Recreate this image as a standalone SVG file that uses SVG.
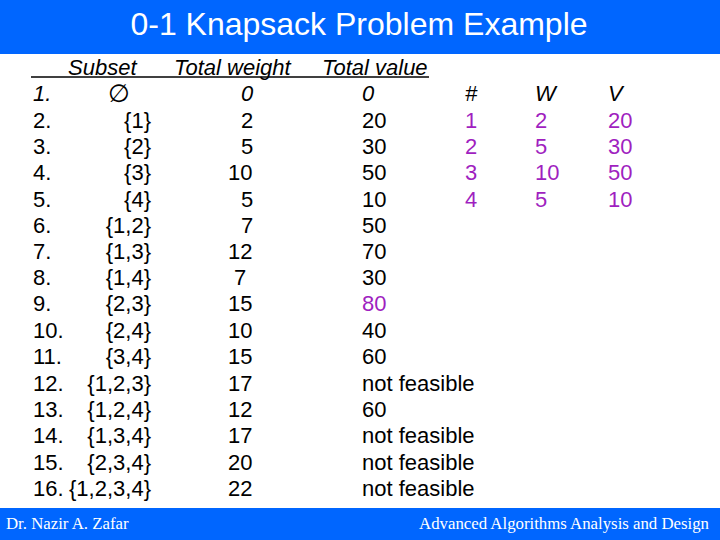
<svg xmlns="http://www.w3.org/2000/svg" width="720" height="540" viewBox="0 0 720 540">
<style>
text{font-family:"Liberation Sans",Arial,sans-serif;font-size:22px;fill:#000}
.i{font-style:italic}
.e{text-anchor:end}
.m{text-anchor:middle}
.p{fill:#a01fc0}
.f{font-family:"Liberation Serif","Times New Roman",serif;font-size:16.8px;fill:#fff}
</style>
<rect width="720" height="540" fill="#fff"/>
<rect width="720" height="54" fill="#0066ff"/>
<rect y="508" width="720" height="32" fill="#0066ff"/>
<text x="359" y="35" class="m" style="font-size:32px;fill:#fff">0-1 Knapsack Problem Example</text>
<g id="table">
<text x="68" y="75" class="i">Subset</text><text x="174" y="75" class="i">Total weight</text><text x="322" y="75" class="i">Total value</text>
<path d="M31 77H429" stroke="#000" stroke-width="1.5" fill="none"/>
<text x="465" y="101" class="i">#</text><text x="535" y="101" class="i">W</text><text x="608" y="101" class="i">V</text>
<text x="33" y="101" class="i">1.</text><text x="108" y="102" class="i" style="font-family:'DejaVu Sans',sans-serif;font-size:25px">∅</text><text x="241" y="101" class="i">0</text><text x="362" y="101" class="i">0</text>
<text x="33" y="128">2.</text><text x="151" y="128" class="e">{1}</text><text x="241" y="128">2</text><text x="362" y="128">20</text>
<text x="33" y="154">3.</text><text x="151" y="154" class="e">{2}</text><text x="241" y="154">5</text><text x="362" y="154">30</text>
<text x="33" y="180">4.</text><text x="151" y="180" class="e">{3}</text><text x="228" y="180">10</text><text x="362" y="180">50</text>
<text x="33" y="207">5.</text><text x="151" y="207" class="e">{4}</text><text x="241" y="207">5</text><text x="362" y="207">10</text>
<text x="33" y="233">6.</text><text x="151" y="233" class="e">{1,2}</text><text x="241" y="233">7</text><text x="362" y="233">50</text>
<text x="33" y="259">7.</text><text x="151" y="259" class="e">{1,3}</text><text x="228" y="259">12</text><text x="362" y="259">70</text>
<text x="33" y="285">8.</text><text x="151" y="285" class="e">{1,4}</text><text x="234" y="285">7</text><text x="362" y="285">30</text>
<text x="33" y="311">9.</text><text x="151" y="311" class="e">{2,3}</text><text x="228" y="311">15</text><text x="362" y="311" class="p">80</text>
<text x="33" y="338">10.</text><text x="151" y="338" class="e">{2,4}</text><text x="228" y="338">10</text><text x="362" y="338">40</text>
<text x="33" y="364">11.</text><text x="151" y="364" class="e">{3,4}</text><text x="228" y="364">15</text><text x="362" y="364">60</text>
<text x="33" y="391">12.</text><text x="151" y="391" class="e">{1,2,3}</text><text x="228" y="391">17</text><text x="362" y="391">not feasible</text>
<text x="33" y="417">13.</text><text x="151" y="417" class="e">{1,2,4}</text><text x="228" y="417">12</text><text x="362" y="417">60</text>
<text x="33" y="443">14.</text><text x="151" y="443" class="e">{1,3,4}</text><text x="228" y="443">17</text><text x="362" y="443">not feasible</text>
<text x="33" y="470">15.</text><text x="151" y="470" class="e">{2,3,4}</text><text x="228" y="470">20</text><text x="362" y="470">not feasible</text>
<text x="33" y="496">16.</text><text x="151" y="496" class="e">{1,2,3,4}</text><text x="228" y="496">22</text><text x="362" y="496">not feasible</text>
<text x="465" y="128" class="p">1</text><text x="465" y="154" class="p">2</text><text x="465" y="180" class="p">3</text><text x="465" y="207" class="p">4</text>
<text x="535" y="128" class="p">2</text><text x="535" y="154" class="p">5</text><text x="535" y="180" class="p">10</text><text x="535" y="207" class="p">5</text>
<text x="608" y="128" class="p">20</text><text x="608" y="154" class="p">30</text><text x="608" y="180" class="p">50</text><text x="608" y="207" class="p">10</text>
</g>
<text x="6" y="529" class="f">Dr. Nazir A. Zafar</text>
<text x="709" y="529" class="f e">Advanced Algorithms Analysis and Design</text>
</svg>
